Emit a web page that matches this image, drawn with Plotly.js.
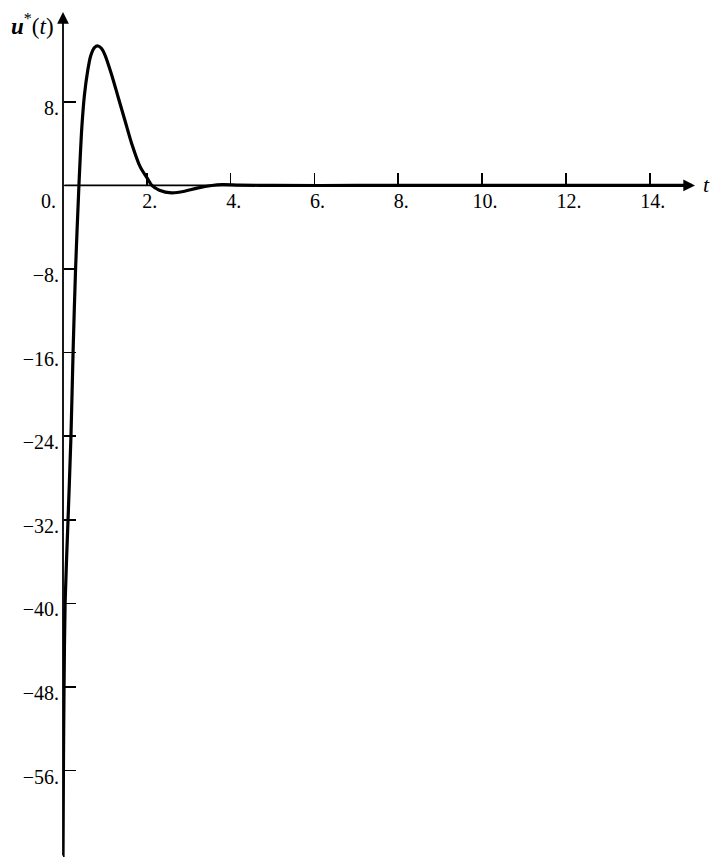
<!DOCTYPE html>
<html>
<head>
<meta charset="utf-8">
<script src="https://cdn.plot.ly/plotly-3.0.1.min.js"></script>
<style>html,body{margin:0;padding:0;background:#fff;}#chart{width:718px;height:857px;}</style>
</head>
<body>
<div id="chart"></div>
<script>
// Data
const tValues = [0, 0.01, 0.025, 0.05, 0.12, 0.19, 0.24, 0.30, 0.38, 0.41, 0.45, 0.51, 0.59, 0.66, 0.75, 0.84, 0.92, 1.00, 1.16, 1.32, 1.48, 1.64, 1.84, 2.04, 2.12, 2.30, 2.59, 2.90, 3.20, 3.55, 3.80, 4.20, 5.0, 7.0, 10.0, 15.0];
const uValues = [-64.5, -56, -48, -40, -32, -24, -16, -8, 0, 2.6, 5.6, 8.6, 11.0, 12.4, 13.2, 13.35, 13.1, 12.5, 10.6, 8.4, 6.2, 4.0, 1.8, 0.5, 0, -0.45, -0.7, -0.55, -0.25, 0, 0.08, 0.04, 0, 0, 0, 0];
const xTickVals = [2, 4, 6, 8, 10, 12, 14];
const xTickText = ["2.", "4.", "6.", "8.", "10.", "12.", "14."];
const yTickVals = [8, 0, -8, -16, -24, -32, -40, -48, -56];
const yTickText = ["8.", "", "\u22128.", "\u221216.", "\u221224.", "\u221232.", "\u221240.", "\u221248.", "\u221256."];
const originLabel = "0.";

const xRange = [0, 15.08];
const yRange = [-64.26, 16.6];
const xAxisPos = (0 - yRange[0]) / (yRange[1] - yRange[0]);

const font = {family: "Liberation Serif", size: 20, color: "#000"};

const trace = {
  x: tValues, y: uValues, type: "scatter", mode: "lines",
  line: {color: "#000", width: 3.2, shape: "spline", smoothing: 0.8},
  hoverinfo: "skip"
};

const layout = {
  width: 718, height: 857,
  margin: {l: 63, r: 23, t: 12, b: 0, pad: 0},
  paper_bgcolor: "#fff", plot_bgcolor: "#fff",
  showlegend: false,
  font: font,
  xaxis: {
    range: xRange, anchor: "free", position: xAxisPos,
    showgrid: false, zeroline: false, showline: false,
    tickmode: "array", tickvals: xTickVals, ticktext: xTickText,
    ticks: "inside", ticklen: 12, tickwidth: 1.6, tickcolor: "#000",
    ticklabelshift: 3, ticklabelstandoff: 2,
    tickfont: font, fixedrange: true
  },
  yaxis: {
    range: yRange, anchor: "free", position: 0,
    showgrid: false, zeroline: false, showline: false,
    tickmode: "array", tickvals: yTickVals, ticktext: yTickText,
    ticks: "inside", ticklen: 12, tickwidth: 1.6, tickcolor: "#000",
    ticklabelstandoff: 4, ticklabelshift: 6,
    tickfont: font, fixedrange: true
  },
  annotations: [
    {x: xRange[1], y: 0, ax: 0, ay: 0, xref: "x", yref: "y", axref: "x", ayref: "y",
     showarrow: true, arrowhead: 2, arrowsize: 1.3, arrowwidth: 1.8, arrowcolor: "#000", text: ""},
    {x: 0, y: yRange[1], ax: 0, ay: yRange[0], xref: "x", yref: "y", axref: "x", ayref: "y",
     showarrow: true, arrowhead: 2, arrowsize: 1.3, arrowwidth: 1.8, arrowcolor: "#000", text: ""},
    {x: 0, xref: "paper", xanchor: "right", xshift: -5, y: 0, yref: "y", yanchor: "middle", yshift: -16,
     text: originLabel, showarrow: false, font: font},
    {x: 1, xref: "paper", xanchor: "left", xshift: 6, y: 0, yref: "y", yanchor: "middle", yshift: 1,
     text: "<i>t</i>", showarrow: false, font: {family: font.family, size: 22, color: "#000"}},
    {x: 0, xref: "paper", xanchor: "right", xshift: -7, y: 1, yref: "paper", yanchor: "top", yshift: 4,
     text: "<b><i>u</i></b><sup>*</sup>(<i>t</i>)", showarrow: false, font: {family: font.family, size: 23, color: "#000"}}
  ]
};

Plotly.newPlot("chart", [trace], layout, {staticPlot: true, displayModeBar: false});
</script>
</body>
</html>
